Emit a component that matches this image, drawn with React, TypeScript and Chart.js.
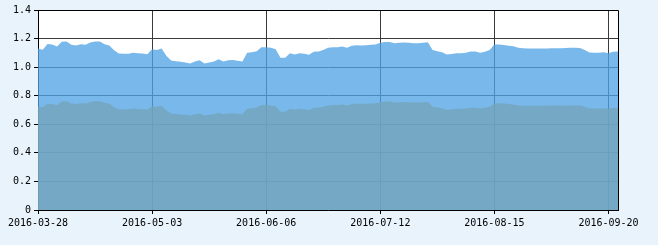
import { useEffect, useRef } from "react";
import { Chart, registerables } from "chart.js";

Chart.register(...registerables);

// Trading days (category axis)
const dates: string[] = [
  "2016-03-28", "2016-03-29", "2016-03-30", "2016-03-31",
  "2016-04-01", "2016-04-05", "2016-04-06", "2016-04-07", "2016-04-08",
  "2016-04-11", "2016-04-12", "2016-04-13", "2016-04-14", "2016-04-15",
  "2016-04-18", "2016-04-19", "2016-04-20", "2016-04-21", "2016-04-22",
  "2016-04-25", "2016-04-26", "2016-04-27", "2016-04-28", "2016-04-29",
  "2016-05-03", "2016-05-04", "2016-05-05", "2016-05-06",
  "2016-05-09", "2016-05-10", "2016-05-11", "2016-05-12", "2016-05-13",
  "2016-05-16", "2016-05-17", "2016-05-18", "2016-05-19", "2016-05-20",
  "2016-05-23", "2016-05-24", "2016-05-25", "2016-05-26", "2016-05-27",
  "2016-05-30", "2016-05-31",
  "2016-06-01", "2016-06-02", "2016-06-03", "2016-06-06", "2016-06-07", "2016-06-08",
  "2016-06-13", "2016-06-14", "2016-06-15", "2016-06-16", "2016-06-17",
  "2016-06-20", "2016-06-21", "2016-06-22", "2016-06-23", "2016-06-24",
  "2016-06-27", "2016-06-28", "2016-06-29", "2016-06-30",
  "2016-07-01", "2016-07-04", "2016-07-05", "2016-07-06", "2016-07-07", "2016-07-08",
  "2016-07-11", "2016-07-12", "2016-07-13", "2016-07-14", "2016-07-15",
  "2016-07-18", "2016-07-19", "2016-07-20", "2016-07-21", "2016-07-22",
  "2016-07-25", "2016-07-26", "2016-07-27", "2016-07-28", "2016-07-29",
  "2016-08-01", "2016-08-02", "2016-08-03", "2016-08-04", "2016-08-05",
  "2016-08-08", "2016-08-09", "2016-08-10", "2016-08-11", "2016-08-12",
  "2016-08-15", "2016-08-16", "2016-08-17", "2016-08-18", "2016-08-19",
  "2016-08-22", "2016-08-23", "2016-08-24", "2016-08-25", "2016-08-26",
  "2016-08-29", "2016-08-30", "2016-08-31",
  "2016-09-01", "2016-09-02", "2016-09-05", "2016-09-06", "2016-09-07", "2016-09-08", "2016-09-09",
  "2016-09-12", "2016-09-13", "2016-09-14", "2016-09-19", "2016-09-20", "2016-09-21", "2016-09-22",
];

// Upper series (blue area)
const upperValues: number[] = [
  1.13, 1.122, 1.162, 1.158, 1.145, 1.178, 1.18, 1.157, 1.152, 1.16,
  1.157, 1.172, 1.18, 1.18, 1.16, 1.152, 1.118, 1.095, 1.093, 1.094,
  1.1, 1.097, 1.095, 1.09, 1.125, 1.12, 1.13, 1.08, 1.046, 1.042,
  1.038, 1.033, 1.025, 1.04, 1.048, 1.026, 1.032, 1.04, 1.055, 1.04,
  1.048, 1.05, 1.045, 1.04, 1.1, 1.105, 1.112, 1.14, 1.14, 1.135,
  1.125, 1.065, 1.065, 1.097, 1.088, 1.097, 1.093, 1.086, 1.108, 1.11,
  1.12, 1.135, 1.14, 1.14, 1.145, 1.135, 1.15, 1.153, 1.152, 1.153,
  1.156, 1.158, 1.17, 1.176, 1.176, 1.168, 1.17, 1.172, 1.17, 1.168,
  1.167, 1.17, 1.174, 1.12, 1.112, 1.105, 1.088, 1.092, 1.097, 1.098,
  1.1, 1.11, 1.11, 1.1, 1.108, 1.12, 1.158, 1.158, 1.155, 1.15,
  1.146, 1.135, 1.132, 1.13, 1.13, 1.13, 1.13, 1.13, 1.133, 1.133,
  1.132, 1.134, 1.135, 1.135, 1.134, 1.12, 1.103, 1.1, 1.1, 1.104,
  1.097, 1.107, 1.11,
];

// Lower series (grey-blue area)
const lowerValues: number[] = [
  0.724, 0.719, 0.743, 0.742, 0.733, 0.76, 0.761, 0.745, 0.742, 0.747,
  0.745, 0.756, 0.763, 0.762, 0.75, 0.746, 0.72, 0.706, 0.705, 0.706,
  0.71, 0.707, 0.706, 0.703, 0.726, 0.723, 0.729, 0.697, 0.675, 0.672,
  0.669, 0.666, 0.661, 0.671, 0.676, 0.662, 0.666, 0.671, 0.681, 0.671,
  0.676, 0.677, 0.674, 0.671, 0.709, 0.713, 0.717, 0.735, 0.735, 0.732,
  0.726, 0.687, 0.687, 0.708, 0.702, 0.708, 0.705, 0.7, 0.715, 0.716,
  0.722, 0.732, 0.735, 0.735, 0.738, 0.732, 0.742, 0.744, 0.743, 0.744,
  0.746, 0.747, 0.755, 0.759, 0.759, 0.753, 0.755, 0.756, 0.755, 0.753,
  0.753, 0.755, 0.757, 0.722, 0.717, 0.713, 0.702, 0.704, 0.708, 0.708,
  0.71, 0.716, 0.716, 0.71, 0.715, 0.722, 0.747, 0.747, 0.745, 0.742,
  0.739, 0.732, 0.73, 0.729, 0.729, 0.729, 0.729, 0.729, 0.731, 0.731,
  0.73, 0.731, 0.732, 0.732, 0.731, 0.722, 0.711, 0.71, 0.71, 0.712,
  0.708, 0.714, 0.716,
];

const yMin = 0;
const yMax = 1.4;
const yStep = 0.2;
const labelEvery = 24;

const FONT = { family: "'DejaVu Sans Mono', 'Liberation Mono', monospace", size: 10 };

const framePlugin = {
  id: "frame",
  beforeDraw(chart: any) {
    const { ctx, chartArea } = chart;
    ctx.save();
    ctx.fillStyle = "#ffffff";
    ctx.fillRect(chartArea.left, chartArea.top, chartArea.right - chartArea.left, chartArea.bottom - chartArea.top);
    ctx.restore();
  },
  afterDraw(chart: any) {
    const { ctx, chartArea } = chart;
    ctx.save();
    ctx.strokeStyle = "#000000";
    ctx.lineWidth = 1;
    ctx.beginPath();
    ctx.moveTo(chartArea.left, Math.round(chartArea.top) + 0.5);
    ctx.lineTo(Math.round(chartArea.right) + 0.5, Math.round(chartArea.top) + 0.5);
    ctx.lineTo(Math.round(chartArea.right) + 0.5, chartArea.bottom);
    ctx.stroke();
    ctx.restore();
  },
};

export default function App() {
  const ref = useRef<HTMLCanvasElement>(null);

  useEffect(() => {
    document.body.style.margin = "0";
    document.body.style.background = "#E8F3FB";
    const canvas = ref.current!;
    const chart = new Chart(canvas, {
      type: "line",
      data: {
        labels: dates,
        datasets: [
          {
            label: "lower",
            data: lowerValues,
            fill: "origin",
            backgroundColor: "rgba(117,164,186,0.78)",
            borderColor: "rgba(117,164,186,0.78)",
            borderWidth: 0,
            pointRadius: 0,
            tension: 0,
            order: 0,
          },
          {
            label: "upper",
            data: upperValues,
            fill: "origin",
            backgroundColor: "rgba(81,163,228,0.77)",
            borderColor: "rgba(81,163,228,0.77)",
            borderWidth: 0,
            pointRadius: 0,
            tension: 0,
            order: 1,
          },
        ],
      },
      options: {
        animation: false,
        responsive: false,
        maintainAspectRatio: false,
        layout: { padding: { top: 10, right: 40, left: 0, bottom: 0 } },
        plugins: {
          legend: { display: false },
          tooltip: { enabled: false },
        },
        scales: {
          x: {
            type: "category",
            offset: false,
            grid: {
              color: (c: any) => (c.index % labelEvery === 0 ? "#3a3a3a" : "rgba(0,0,0,0)"),
              tickColor: (c: any) => (c.index % labelEvery === 0 ? "#000000" : "rgba(0,0,0,0)"),
              tickLength: 4,
              lineWidth: 1,
            },
            border: { color: "#000000", width: 1 },
            ticks: {
              autoSkip: false,
              maxRotation: 0,
              minRotation: 0,
              color: "#000000",
              font: FONT,
              padding: 3,
              callback: (_v: any, i: number) => (i % labelEvery === 0 ? dates[i] : ""),
            },
            afterFit: (s: any) => {
              s.height = 35;
            },
          },
          y: {
            min: yMin,
            max: yMax,
            grid: {
              color: "#3a3a3a",
              tickColor: "#000000",
              tickLength: 4,
              lineWidth: 1,
            },
            border: { color: "#000000", width: 1 },
            ticks: {
              stepSize: yStep,
              color: "#000000",
              font: FONT,
              padding: 3,
            },
            afterFit: (s: any) => {
              s.width = 38;
            },
          },
        },
      },
      plugins: [framePlugin],
    });
    return () => chart.destroy();
  }, []);

  return (
    <div style={{ width: 658, height: 245, background: "#E8F3FB" }}>
      <canvas ref={ref} width={658} height={245} style={{ display: "block", width: 658, height: 245 }} />
    </div>
  );
}
